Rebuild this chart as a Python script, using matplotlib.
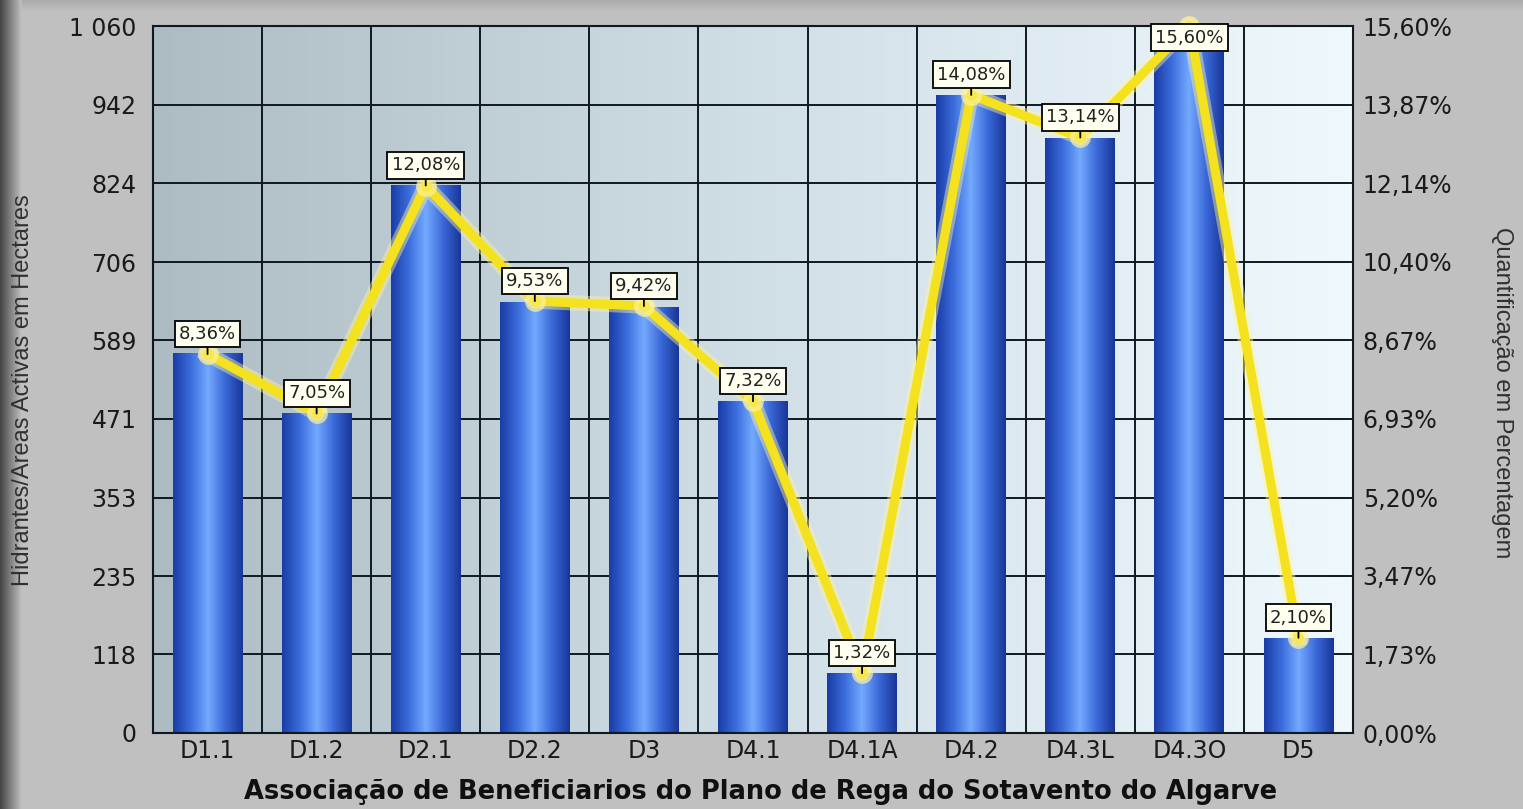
import numpy as np
import matplotlib.pyplot as plt
from matplotlib.colors import LinearSegmentedColormap

# data
categories = ['D1.1', 'D1.2', 'D2.1', 'D2.2', 'D3', 'D4.1', 'D4.1A', 'D4.2', 'D4.3L', 'D4.3O', 'D5']
hectares = [570, 480, 822, 646, 639, 498, 90, 957, 892, 1021, 142]
percent = [8.36, 7.05, 12.08, 9.53, 9.42, 7.32, 1.32, 14.08, 13.14, 15.60, 2.10]
left_ticks = [0, 118, 235, 353, 471, 589, 706, 824, 942, 1060]
left_labels = ['0', '118', '235', '353', '471', '589', '706', '824', '942', '1 060']
right_ticks = [0, 1.7333, 3.4667, 5.2, 6.9333, 8.6667, 10.4, 12.1333, 13.8667, 15.6]
right_labels = ['0,00%', '1,73%', '3,47%', '5,20%', '6,93%', '8,67%', '10,40%', '12,14%', '13,87%', '15,60%']

W, H = 1523, 809
fig = plt.figure(figsize=(W / 100, H / 100), dpi=100)
fig.patch.set_facecolor('#c0c0c0')

# background with dark strip at the left edge
bg = np.full((H, W), 192.0)
ramp = np.linspace(70, 192, 22)
bg[:, :22] = ramp[None, :]
top = np.linspace(172, 192, 12)
bg[:12, 22:] = np.minimum(bg[:12, 22:], top[:, None])
bg_ax = fig.add_axes([0, 0, 1, 1], zorder=-5)
bg_ax.imshow(np.dstack([bg, bg, bg]).astype(np.uint8), aspect='auto')
bg_ax.axis('off')

ax = fig.add_axes([153 / W, 1 - 733 / H, 1200 / W, 707 / H])
ax.patch.set_visible(False)

# plot area gradient
pa_cmap = LinearSegmentedColormap.from_list('pa', ['#adbbc3', '#d0dee6', '#eff9fd'])
grad = np.tile(np.linspace(0, 1, 256), (2, 1))
ax.imshow(grad, extent=[0, 1, 0, 1], transform=ax.transAxes, cmap=pa_cmap,
          aspect='auto', zorder=-3)

x = np.arange(len(categories))
bars = ax.bar(x, hectares, width=0.64, color='none', zorder=2)

bar_cmap = LinearSegmentedColormap.from_list(
    'bar', ['#1a3ca6', '#3b6cdc', '#74aaff', '#3a68d8', '#183698'])
bgrad = np.tile(np.linspace(0, 1, 128), (2, 1))
for b in bars:
    bx, bw, bh = b.get_x(), b.get_width(), b.get_height()
    im = ax.imshow(bgrad, extent=[bx, bx + bw, 0, bh], cmap=bar_cmap,
                   aspect='auto', zorder=2)
    im.set_clip_path(b)

ax.set_xlim(-0.5, len(categories) - 0.5)
ax.set_ylim(0, 1060)
ax.set_yticks(left_ticks)
ax.set_yticklabels(left_labels)
ax.set_xticks(x)
ax.set_xticklabels(categories)
ax.set_xticks(x[:-1] + 0.5, minor=True)
ax.grid(True, axis='y', color='#101820', lw=1.4)
ax.grid(True, axis='x', which='minor', color='#101820', lw=1.4)
ax.set_axisbelow(True)
ax.tick_params(axis='both', which='both', length=0, labelsize=17, labelcolor='#1a1a1a')
ax.tick_params(axis='y', pad=12)
ax.tick_params(axis='x', pad=4)
for s in ax.spines.values():
    s.set_color('#101820')
    s.set_linewidth(1.5)

ax2 = ax.twinx()
ax2.set_ylim(0, 15.6)
ax2.set_yticks(right_ticks)
ax2.set_yticklabels(right_labels)
ax2.tick_params(axis='y', length=0, labelsize=17, labelcolor='#1a1a1a', pad=7)
for s in ax2.spines.values():
    s.set_visible(False)

# yellow line with glow
ax2.plot(x, percent, color='#fff59a', lw=11, alpha=0.45, solid_joinstyle='round', zorder=3, clip_on=False)
ax2.plot(x, percent, color='#f4e21e', lw=6.5, solid_joinstyle='round', zorder=4, clip_on=False)
ax2.plot(x, percent, 'o', ms=15, mfc='#fff39a', mec='none', alpha=0.7, zorder=5, clip_on=False)
ax2.plot(x, percent, 'o', ms=8, mfc='#f6e850', mec='none', zorder=5, clip_on=False)

for xi, p in zip(x, percent):
    txt = f'{p:.2f}%'.replace('.', ',')
    box = dict(boxstyle='square,pad=0.24', fc='#fffff0', ec='black', lw=1.3)
    if p > 15:
        # no room above the top point: label sits just under it
        ax2.annotate(txt, xy=(xi, p), xytext=(0, -2), textcoords='offset points',
                     ha='center', va='top', fontsize=13, color='#202020', zorder=6,
                     bbox=box)
    else:
        ax2.annotate(txt, xy=(xi, p), xytext=(0, 8), textcoords='offset points',
                     ha='center', va='bottom', fontsize=13, color='#202020', zorder=6,
                     annotation_clip=False, bbox=box,
                     arrowprops=dict(arrowstyle='-', color='black', lw=1.3, shrinkA=0, shrinkB=0))

fig.text(23 / W, 1 - 390 / H, 'Hidrantes/Areas Activas em Hectares', rotation=90,
         ha='center', va='center', fontsize=17, color='#303030', family='Liberation Sans')
fig.text(1502 / W, 1 - 393 / H, 'Quantificação em Percentagem', rotation=270,
         ha='center', va='center', fontsize=17, color='#303030', family='Liberation Sans')
fig.text(761 / W, 1 - 792 / H, 'Associação de Beneficiarios do Plano de Rega do Sotavento do Algarve',
         ha='center', va='center', fontsize=18.5, fontweight='bold', color='#101010')

fig.savefig('out.png', dpi=100, facecolor=fig.get_facecolor())
